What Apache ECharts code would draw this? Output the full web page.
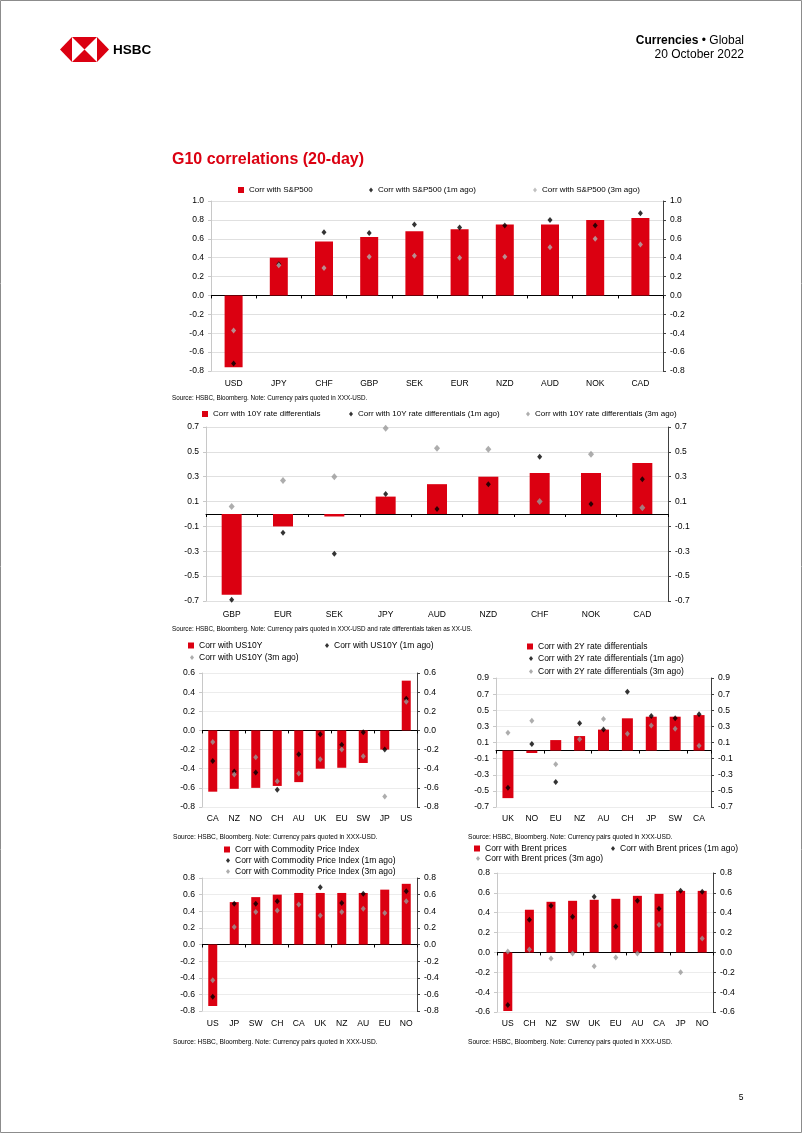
<!DOCTYPE html>
<html>
<head>
<meta charset="utf-8">
<script src="https://cdn.jsdelivr.net/npm/echarts@6/dist/echarts.min.js"></script>
<style>
html,body{margin:0;padding:0;background:#fff;}
#c{width:802px;height:1133px;}
</style>
</head>
<body>
<div id="c"></div>
<script>
// ---------- DATA ----------
const c1Cats = ['USD','JPY','CHF','GBP','SEK','EUR','NZD','AUD','NOK','CAD'];
const c1Now  = [-0.76,0.40,0.57,0.62,0.68,0.70,0.75,0.75,0.80,0.82];
const c1M1   = [-0.72,0.33,0.67,0.66,0.75,0.72,0.74,0.80,0.74,0.87];
const c1M3   = [-0.37,0.32,0.29,0.41,0.42,0.40,0.41,0.51,0.60,0.54];
const c1Names = ['Corr with S&P500','Corr with S&P500 (1m ago)','Corr with S&P500 (3m ago)'];
const c1Axis = [-0.8, 1.0, 0.2];

const c2Cats = ['GBP','EUR','SEK','JPY','AUD','NZD','CHF','NOK','CAD'];
const c2Now  = [-0.65,-0.10,-0.02,0.14,0.24,0.30,0.33,0.33,0.41];
const c2M1   = [-0.69,-0.15,-0.32,0.16,0.04,0.24,0.46,0.08,0.28];
const c2M3   = [0.06,0.27,0.30,0.69,0.53,0.52,0.10,0.48,0.05];
const c2Names = ['Corr with 10Y rate differentials','Corr with 10Y rate differentials (1m ago)','Corr with 10Y rate differentials (3m ago)'];
const c2Axis = [-0.7, 0.7, 0.2];

const c3Cats = ['CA','NZ','NO','CH','AU','UK','EU','SW','JP','US'];
const c3Now  = [-0.64,-0.61,-0.60,-0.58,-0.54,-0.40,-0.39,-0.34,-0.20,0.52];
const c3M1   = [-0.32,-0.43,-0.44,-0.62,-0.25,-0.04,-0.15,-0.02,-0.20,0.33];
const c3M3   = [-0.12,-0.46,-0.28,-0.53,-0.45,-0.30,-0.20,-0.27,-0.69,0.30];
const c3Names = ['Corr with US10Y','Corr with US10Y (1m ago)','Corr with US10Y (3m ago)'];
const c3Axis = [-0.8, 0.6, 0.2];

const c4Cats = ['UK','NO','EU','NZ','AU','CH','JP','SW','CA'];
const c4Now  = [-0.59,-0.03,0.13,0.18,0.26,0.40,0.42,0.42,0.44];
const c4M1   = [-0.46,0.08,-0.39,0.34,0.26,0.73,0.43,0.40,0.45];
const c4M3   = [0.22,0.37,-0.17,0.14,0.39,0.21,0.31,0.27,0.06];
const c4Names = ['Corr with 2Y rate differentials','Corr with 2Y rate differentials (1m ago)','Corr with 2Y rate differentials (3m ago)'];
const c4Axis = [-0.7, 0.9, 0.2];

const c5Cats = ['US','JP','SW','CH','CA','UK','NZ','AU','EU','NO'];
const c5Now  = [-0.74,0.51,0.57,0.60,0.62,0.62,0.62,0.62,0.66,0.73];
const c5M1   = [-0.63,0.49,0.49,0.52,null,0.69,0.50,0.61,null,0.64];
const c5M3   = [-0.43,0.21,0.39,0.41,0.48,0.35,0.39,0.43,0.38,0.52];
const c5Names = ['Corr with Commodity Price Index','Corr with Commodity Price Index (1m ago)','Corr with Commodity Price Index (3m ago)'];
const c5Axis = [-0.8, 0.8, 0.2];

const c6Cats = ['US','CH','NZ','SW','UK','EU','AU','CA','JP','NO'];
const c6Now  = [-0.59,0.43,0.51,0.52,0.53,0.54,0.57,0.59,0.62,0.62];
const c6M1   = [-0.53,0.33,0.47,0.36,0.56,0.26,0.52,0.44,0.62,0.61];
const c6M3   = [0.01,0.03,-0.06,-0.01,-0.14,-0.05,-0.01,0.28,-0.20,0.14];
const c6Names = ['Corr with Brent prices','Corr with Brent prices (1m ago)','Corr with Brent prices (3m ago)'];
const c6Axis = [-0.6, 0.8, 0.2];

const srcA = 'Source: HSBC, Bloomberg. Note: Currency pairs quoted in XXX-USD.';
const srcB = 'Source: HSBC, Bloomberg. Note: Currency pairs quoted in XXX-USD and rate differentials taken as XX-US.';

// ---------- BUILD ----------
const FF = '"Liberation Sans", Arial, sans-serif';
const RED = '#DB0011';
const grid = [], xAxis = [], yAxis = [], series = [], legend = [];

function buildChart(idx, cfg) {
  const [l, t, r, b] = cfg.box;
  grid.push({left: l, top: t, width: r - l, height: b - t});
  const [mn, mx, iv] = cfg.axis;
  xAxis.push({
    type: 'category', gridIndex: idx, data: cfg.cats, position: 'bottom',
    axisLine: {show: false, onZero: false}, axisTick: {show: false},
    axisLabel: {fontSize: cfg.fs, color: '#000', fontFamily: FF, margin: cfg.catMargin, interval: 0}
  });
  xAxis.push({
    type: 'category', gridIndex: idx, data: cfg.cats, position: 'bottom',
    axisLine: {show: true, onZero: true, lineStyle: {color: '#000', width: 1}},
    axisTick: {show: true, length: 3, lineStyle: {color: '#000'}},
    axisLabel: {show: false}
  });
  const fmt = v => v.toFixed(1);
  const yBase = {
    type: 'value', gridIndex: idx, min: mn, max: mx, interval: iv,
    axisLabel: {fontSize: cfg.fs, color: '#000', fontFamily: FF, margin: 7, formatter: fmt}
  };
  yAxis.push(Object.assign({}, yBase, {
    position: 'left',
    axisLine: {show: true, lineStyle: {color: '#c8c8c8'}},
    axisTick: {show: true, length: 3, lineStyle: {color: '#c8c8c8'}},
    splitLine: {show: true, lineStyle: {color: cfg.big ? '#e0e0e0' : '#ececec'}}
  }));
  yAxis.push(Object.assign({}, yBase, {
    position: 'right',
    axisLine: {show: true, lineStyle: {color: '#404040'}},
    axisTick: {show: true, length: 3, lineStyle: {color: '#404040'}},
    splitLine: {show: false}
  }));
  const xi = idx * 2, yi = idx * 2;
  series.push({
    type: 'bar', name: cfg.names[0], xAxisIndex: xi, yAxisIndex: yi,
    data: cfg.now, barWidth: cfg.barW, itemStyle: {color: RED}, z: 2, silent: true
  });
  series.push({
    type: 'scatter', name: cfg.names[1], xAxisIndex: xi, yAxisIndex: yi,
    data: cfg.m1, symbol: 'diamond', symbolSize: cfg.sym1, itemStyle: {color: '#000'}, z: 4, silent: true
  });
  series.push({
    type: 'scatter', name: cfg.names[2], xAxisIndex: xi, yAxisIndex: yi,
    data: cfg.m3, symbol: 'diamond', symbolSize: cfg.sym3, itemStyle: {color: cfg.col3}, z: 5, silent: true
  });
  const icons = [
    {icon: 'rect', w: 6, h: 6},
    {icon: 'diamond', w: 4, h: 5},
    {icon: 'diamond', w: 4, h: 5}
  ];
  cfg.legendPos.forEach((p, k) => {
    const ic = icons[k];
    legend.push({
      left: p[0] - 5 - ic.w, top: p[1] - 5, padding: 0, itemGap: 0,
      itemWidth: ic.w, itemHeight: ic.h, selectedMode: false,
      data: [{name: cfg.names[k], icon: ic.icon,
              itemStyle: {color: k === 0 ? RED : (k === 1 ? '#000' : cfg.col3)}}],
      textStyle: {fontSize: cfg.lfs, color: '#000', fontFamily: FF}
    });
  });
}

buildChart(0, {cats: c1Cats, now: c1Now, m1: c1M1, m3: c1M3, names: c1Names, axis: c1Axis,
  box: [211, 201, 663, 371], barW: 18, big: true, fs: 8.5, lfs: 8, catMargin: 8,
  sym1: [5, 6], sym3: [5, 6], col3: '#b0b0b0',
  legendPos: [[249, 191], [378, 191], [542, 191]]});
buildChart(1, {cats: c2Cats, now: c2Now, m1: c2M1, m3: c2M3, names: c2Names, axis: c2Axis,
  box: [206, 427, 668, 601], barW: 20, big: true, fs: 8.5, lfs: 8, catMargin: 9,
  sym1: [5, 6], sym3: [6, 7], col3: '#999999',
  legendPos: [[213, 415], [358, 415], [535, 415]]});
buildChart(2, {cats: c3Cats, now: c3Now, m1: c3M1, m3: c3M3, names: c3Names, axis: c3Axis,
  box: [202, 673, 417, 807], barW: 9, big: false, fs: 8.6, lfs: 8.5, catMargin: 7,
  sym1: [5, 6], sym3: [5, 6], col3: '#999999',
  legendPos: [[199, 646], [334, 646], [199, 658]]});
buildChart(3, {cats: c4Cats, now: c4Now, m1: c4M1, m3: c4M3, names: c4Names, axis: c4Axis,
  box: [496, 678, 711, 807], barW: 11, big: false, fs: 8.6, lfs: 8.5, catMargin: 7,
  sym1: [5, 6], sym3: [5, 6], col3: '#999999',
  legendPos: [[538, 647], [538, 659], [538, 672]]});
buildChart(4, {cats: c5Cats, now: c5Now, m1: c5M1, m3: c5M3, names: c5Names, axis: c5Axis,
  box: [202, 878, 417, 1011], barW: 9, big: false, fs: 8.6, lfs: 8.5, catMargin: 8,
  sym1: [5, 6], sym3: [5, 6], col3: '#999999',
  legendPos: [[235, 850], [235, 861], [235, 872]]});
buildChart(5, {cats: c6Cats, now: c6Now, m1: c6M1, m3: c6M3, names: c6Names, axis: c6Axis,
  box: [497, 873, 713, 1012], barW: 9, big: false, fs: 8.6, lfs: 8.5, catMargin: 7,
  sym1: [5, 6], sym3: [5, 6], col3: '#999999',
  legendPos: [[485, 849], [620, 849], [485, 859]]});

// ---------- PAGE GRAPHICS ----------
function txt(x, y, s, opts) {
  return {type: 'text', x: x, y: y, silent: true,
    style: Object.assign({text: s, fill: '#000', font: '6.3px ' + FF, textAlign: 'left', textVerticalAlign: 'middle'}, opts || {})};
}
const small = {font: '6.6px ' + FF};
const graphic = [
  {type: 'rect', shape: {x: 0.5, y: 0.5, width: 801, height: 1132}, style: {fill: null, stroke: '#8c8c8c', lineWidth: 1}, silent: true},
  {type: 'polygon', shape: {points: [[72,37],[60,49.5],[72,62]]}, style: {fill: RED}, silent: true},
  {type: 'polygon', shape: {points: [[97,37],[109,49.5],[97,62]]}, style: {fill: RED}, silent: true},
  {type: 'polygon', shape: {points: [[72,37],[97,37],[84.5,49.5]]}, style: {fill: RED}, silent: true},
  {type: 'polygon', shape: {points: [[72,62],[97,62],[84.5,49.5]]}, style: {fill: RED}, silent: true},
  txt(113, 50.5, 'HSBC', {font: 'bold 13.5px ' + FF}),
  {type: 'text', x: 744, y: 41, silent: true, style: {
    text: '{b|Currencies} \u2022 Global', textAlign: 'right', textVerticalAlign: 'middle',
    font: '12px ' + FF, fill: '#000',
    rich: {b: {fontWeight: 'bold', fontSize: 12, fontFamily: FF, fill: '#000'}}}},
  txt(744, 55, '20 October 2022', {font: '12px ' + FF, textAlign: 'right'}),
  txt(172, 160, 'G10 correlations (20-day)', {font: 'bold 16px ' + FF, fill: RED}),
  txt(172, 398, srcA),
  txt(172, 629, srcB),
  txt(173, 837, srcA, small),
  txt(468, 837, srcA, small),
  txt(173, 1042, srcA, small),
  txt(468, 1042, srcA, small),
  txt(741, 1098, '5', {font: '8.5px ' + FF, textAlign: 'center'})
];

const chart = echarts.init(document.getElementById('c'), null, {renderer: 'canvas'});
chart.setOption({
  animation: false,
  backgroundColor: '#fff',
  textStyle: {fontFamily: FF},
  grid: grid, xAxis: xAxis, yAxis: yAxis, series: series, legend: legend,
  graphic: graphic
});
</script>
</body>
</html>
